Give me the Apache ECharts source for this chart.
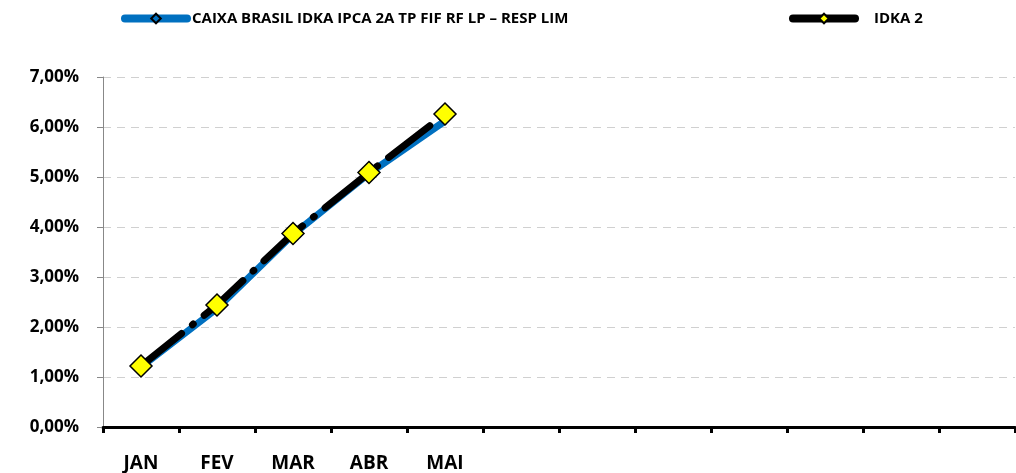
<!DOCTYPE html>
<html>
<head>
<meta charset="utf-8">
<script src="https://cdn.jsdelivr.net/npm/echarts@6/dist/echarts.min.js"></script>
<style>
  html, body { margin: 0; padding: 0; background: #fff; }
  #chart { width: 1016px; height: 473px; }
</style>
</head>
<body>
<div id="chart"></div>
<script>
// meses (só os 5 primeiros têm rótulo)
var meses = ['JAN', 'FEV', 'MAR', 'ABR', 'MAI', '', '', '', '', '', '', ''];
// rentabilidade acumulada (%)
var caixa = [1.20, 2.37, 3.85, 5.07, 6.12];
var idka = [1.22, 2.44, 3.87, 5.09, 6.26];
var nomeCaixa = 'CAIXA BRASIL IDKA IPCA 2A TP FIF RF LP – RESP LIM';
var nomeIdka = 'IDKA 2';

var chart = echarts.init(document.getElementById('chart'));
var fonte = 'Open Sans, sans-serif';

var option = {
    animation: false,
    legend: [{
        left: 116,
        top: 6,
        itemWidth: 62,
        itemHeight: 12,
        data: [nomeCaixa],
        lineStyle: { width: 8, cap: 'round' },
        textStyle: { fontFamily: fonte, fontWeight: 'bold', fontSize: 15, color: '#000' }
    }, {
        left: 784,
        top: 6,
        itemWidth: 62,
        itemHeight: 12,
        data: [nomeIdka],
        lineStyle: { width: 8, cap: 'round', type: 'solid' },
        textStyle: { fontFamily: fonte, fontWeight: 'bold', fontSize: 15, color: '#000', padding: [0, 0, 0, 14] }
    }],
    grid: { left: 103, right: 1, top: 77, bottom: 43, containLabel: false },
    xAxis: {
        type: 'category',
        data: meses,
        boundaryGap: true,
        axisLine: { lineStyle: { color: '#000', width: 3 } },
        axisTick: { show: true, length: 6, lineStyle: { color: '#000', width: 3 } },
        axisLabel: { margin: 27, fontFamily: fonte, fontWeight: 'bold', fontSize: 19, color: '#000' },
        splitLine: { show: false }
    },
    yAxis: {
        type: 'value',
        min: 0,
        max: 7,
        interval: 1,
        axisLine: { show: true, lineStyle: { color: '#888', width: 1 } },
        axisTick: { show: true, length: 6, lineStyle: { color: '#888' } },
        axisLabel: {
            margin: 24,
            fontFamily: fonte, fontWeight: 'bold', fontSize: 17, color: '#000',
            formatter: function (v) { return v.toFixed(2).replace('.', ',') + '%'; }
        },
        splitLine: { lineStyle: { color: '#d0d0d0', type: [8, 6], width: 1 } }
    },
    series: [{
        name: nomeCaixa,
        type: 'line',
        data: caixa,
        symbol: 'diamond',
        symbolSize: 9,
        showSymbol: false,
        itemStyle: { color: '#0070c0', borderColor: '#000', borderWidth: 1.5 },
        lineStyle: { color: '#0070c0', width: 7 },
        z: 2
    }, {
        name: nomeIdka,
        type: 'line',
        data: idka,
        symbol: 'diamond',
        symbolSize: 22,
        itemStyle: { color: '#ffff00', borderColor: '#000', borderWidth: 1.5 },
        lineStyle: { color: '#000', width: 7, type: [52, 14, 1, 14], cap: 'round' },
        z: 3
    }]
};

chart.setOption(option);
</script>
</body>
</html>
